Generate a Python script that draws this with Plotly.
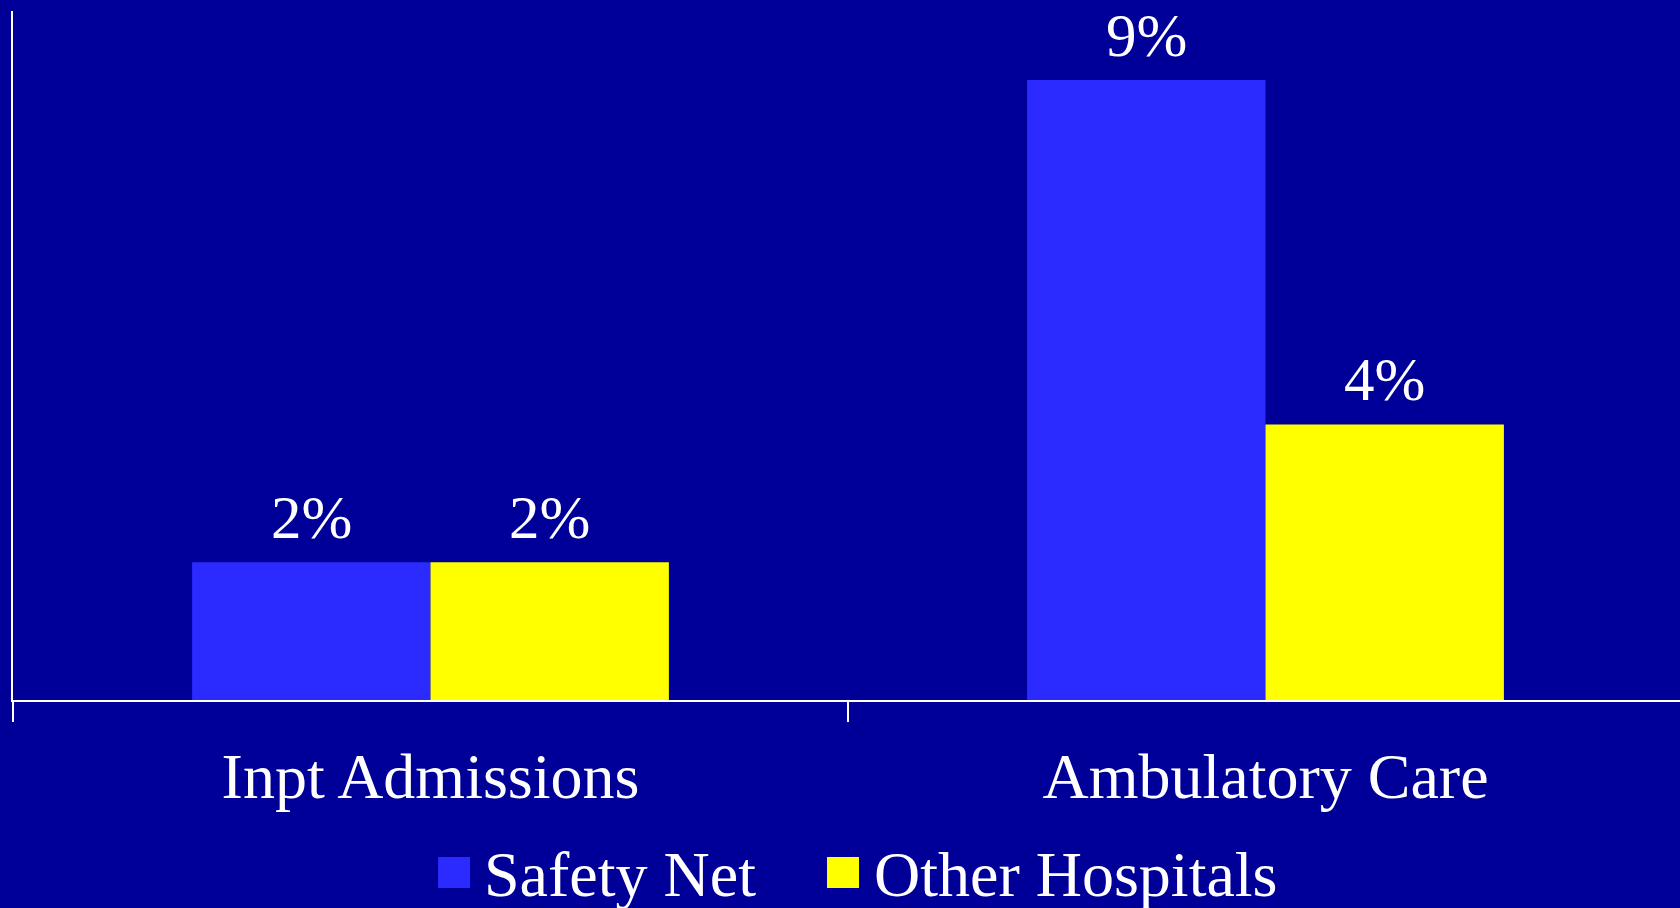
import plotly.graph_objects as go

categories = ["Inpt Admissions", "Ambulatory Care"]
safety_net = [2, 9]
other_hospitals = [2, 4]
series_names = ["Safety Net", "Other Hospitals"]

BG = "#000099"
BLUE = "#2B2BFF"
YELLOW = "#FFFF00"
FONT = "Liberation Serif"

fig = go.Figure()
series = [(series_names[0], safety_net, BLUE, -119), (series_names[1], other_hospitals, YELLOW, 119)]
for name, vals, col, xs in series:
    fig.add_trace(go.Bar(
        x=categories, y=vals, name=name, showlegend=False,
        marker=dict(color=col, line=dict(width=0)),
        cliponaxis=False,
    ))
    # value labels above each bar
    for cat, v in zip(categories, vals):
        fig.add_annotation(x=cat, y=v, text=f"{v}%", showarrow=False,
                           xanchor="center", yanchor="bottom", xshift=xs, yshift=9,
                           font=dict(family=FONT, size=61, color="white"))

# legend drawn as squares + text in paper coordinates
legend_items = [
    (series_names[0], BLUE, 0.2550, 0.2813),
    (series_names[1], YELLOW, 0.4883, 0.5152),
]
for name, col, sx, tx in legend_items:
    fig.add_shape(type="rect", xref="paper", yref="paper",
                  x0=sx, x1=sx + 0.0192, y0=-0.2729, y1=-0.2279,
                  fillcolor=col, line=dict(width=0))
    fig.add_annotation(text=name, xref="paper", yref="paper", x=tx, y=-0.2533,
                       xanchor="left", yanchor="middle", showarrow=False,
                       font=dict(family=FONT, size=64, color="white"))

fig.update_layout(
    width=1680, height=908,
    margin=dict(l=13, r=0, t=11, b=208, pad=0),
    paper_bgcolor=BG, plot_bgcolor=BG,
    barmode="group", bargap=0.429, bargroupgap=0,
    font=dict(family=FONT, color="white", size=64),
    showlegend=False,
    xaxis=dict(range=[-0.5, 1.4964], showline=True, linecolor="white", linewidth=2,
               ticks="outside", tickson="boundaries", ticklen=20, tickcolor="white", tickwidth=2,
               ticklabelstandoff=19,
               tickfont=dict(family=FONT, size=64, color="white"), showgrid=False, zeroline=False,
               fixedrange=True),
    yaxis=dict(range=[0, 10], showline=True, linecolor="white", linewidth=2,
               showticklabels=False, ticks="", showgrid=False, zeroline=False, fixedrange=True),
)

fig.write_html("out.html")
